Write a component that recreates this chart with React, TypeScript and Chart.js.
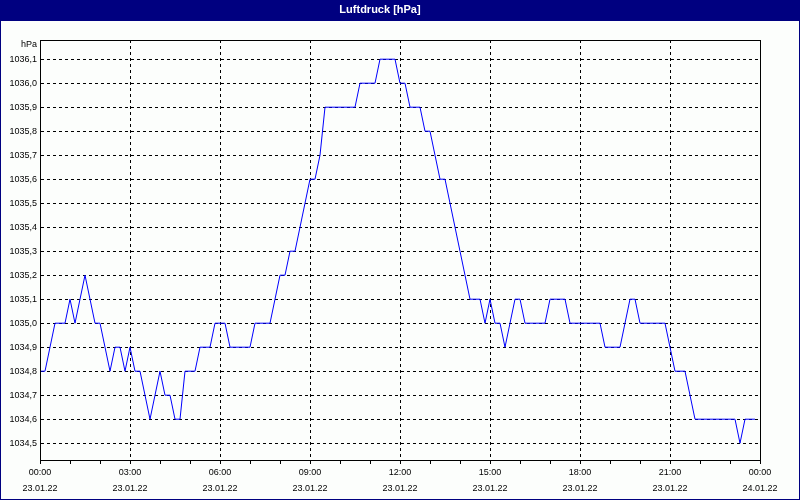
import React, { useEffect, useRef } from 'react';
import { Chart, registerables } from 'chart.js';

Chart.register(...registerables);

const TITLE = 'Luftdruck [hPa]';
const UNIT = 'hPa';
const SAMPLE_MINUTES = 10;

// Air pressure, one value every 10 minutes from 00:00 to 23:50
const PRESSURE = [
  1034.8, 1034.8, 1034.9, 1035.0, 1035.0, 1035.0,
  1035.1, 1035.0, 1035.1, 1035.2, 1035.1, 1035.0,
  1035.0, 1034.9, 1034.8, 1034.9, 1034.9, 1034.8,
  1034.9, 1034.8, 1034.8, 1034.7, 1034.6, 1034.7,
  1034.8, 1034.7, 1034.7, 1034.6, 1034.6, 1034.8,
  1034.8, 1034.8, 1034.9, 1034.9, 1034.9, 1035.0,
  1035.0, 1035.0, 1034.9, 1034.9, 1034.9, 1034.9,
  1034.9, 1035.0, 1035.0, 1035.0, 1035.0, 1035.1,
  1035.2, 1035.2, 1035.3, 1035.3, 1035.4, 1035.5,
  1035.6, 1035.6, 1035.7, 1035.9, 1035.9, 1035.9,
  1035.9, 1035.9, 1035.9, 1035.9, 1036.0, 1036.0,
  1036.0, 1036.0, 1036.1, 1036.1, 1036.1, 1036.1,
  1036.0, 1036.0, 1035.9, 1035.9, 1035.9, 1035.8,
  1035.8, 1035.7, 1035.6, 1035.6, 1035.5, 1035.4,
  1035.3, 1035.2, 1035.1, 1035.1, 1035.1, 1035.0,
  1035.1, 1035.0, 1035.0, 1034.9, 1035.0, 1035.1,
  1035.1, 1035.0, 1035.0, 1035.0, 1035.0, 1035.0,
  1035.1, 1035.1, 1035.1, 1035.1, 1035.0, 1035.0,
  1035.0, 1035.0, 1035.0, 1035.0, 1035.0, 1034.9,
  1034.9, 1034.9, 1034.9, 1035.0, 1035.1, 1035.1,
  1035.0, 1035.0, 1035.0, 1035.0, 1035.0, 1035.0,
  1034.9, 1034.8, 1034.8, 1034.8, 1034.7, 1034.6,
  1034.6, 1034.6, 1034.6, 1034.6, 1034.6, 1034.6,
  1034.6, 1034.6, 1034.5, 1034.6, 1034.6, 1034.6,
];

const Y_MIN = 1034.43;
const Y_MAX = 1036.18;
const Y_TICKS = [
  1034.5, 1034.6, 1034.7, 1034.8, 1034.9, 1035.0, 1035.1, 1035.2, 1035.3,
  1035.4, 1035.5, 1035.6, 1035.7, 1035.8, 1035.9, 1036.0, 1036.1,
];

const X_TICK_HOURS = [
  0, 1, 2, 3, 4, 5, 6, 7, 8, 9, 10, 11, 12, 13, 14, 15, 16, 17, 18, 19, 20, 21, 22, 23, 24,
];
const X_MAJOR_EVERY = 3;
const X_TIME_LABELS = ['00:00', '03:00', '06:00', '09:00', '12:00', '15:00', '18:00', '21:00', '00:00'];
const X_DATE_LABELS = ['23.01.22', '23.01.22', '23.01.22', '23.01.22', '23.01.22', '23.01.22', '23.01.22', '23.01.22', '24.01.22'];

const FONT = '"Liberation Sans", Arial, sans-serif';

export default function App() {
  const ref = useRef<HTMLCanvasElement>(null);

  useEffect(() => {
    document.body.style.margin = '0';
    const canvas = ref.current;
    if (!canvas) return;

    const framePlugin = {
      id: 'frame',
      beforeDraw(chart: any) {
        const { ctx, width, height } = chart;
        ctx.save();
        ctx.fillStyle = '#000080';
        ctx.fillRect(0, 0, width, height);
        ctx.fillStyle = '#fcfefc';
        ctx.fillRect(1, 21, width - 2, height - 22);
        ctx.restore();
      },
      afterDraw(chart: any) {
        const { ctx, chartArea } = chart;
        ctx.save();
        ctx.strokeStyle = '#000';
        ctx.lineWidth = 1;
        ctx.setLineDash([]);
        const l = Math.round(chartArea.left);
        const t = Math.round(chartArea.top);
        const r = Math.round(chartArea.right);
        const b = Math.round(chartArea.bottom);
        ctx.strokeRect(l + 0.5, t + 0.5, r - l, b - t);
        ctx.fillStyle = '#000';
        ctx.font = '9px ' + FONT;
        ctx.textAlign = 'right';
        ctx.textBaseline = 'middle';
        ctx.fillText(UNIT, l - 3, t + 5);
        ctx.restore();
      },
    };

    const points = PRESSURE.map((v, i) => ({ x: (i * SAMPLE_MINUTES) / 60, y: v }));

    const chart = new Chart(canvas, {
      type: 'line',
      data: {
        datasets: [
          {
            data: points,
            borderColor: '#0000ff',
            borderWidth: 1,
            pointRadius: 0,
            tension: 0,
            fill: false,
          },
        ],
      },
      options: {
        responsive: false,
        animation: false,
        devicePixelRatio: 1,
        layout: { padding: { left: 0, right: 40, top: 0, bottom: 0 } },
        plugins: {
          legend: { display: false },
          tooltip: { enabled: false },
          title: {
            display: true,
            text: TITLE,
            color: '#ffffff',
            font: { family: FONT, size: 11, weight: 'bold' },
            padding: { top: 3, bottom: 23.8 },
          },
        },
        scales: {
          x: {
            type: 'linear',
            min: 0,
            max: 24,
            afterBuildTicks: (scale: any) => {
              scale.ticks = X_TICK_HOURS.map((v) => ({ value: v }));
            },
            afterFit: (scale: any) => {
              scale.height = 40;
            },
            border: { display: true, color: '#000', width: 1, dash: [3, 3] },
            grid: {
              color: (ctx: any) =>
                ctx.tick && ctx.tick.value % X_MAJOR_EVERY === 0 ? '#000' : 'rgba(0,0,0,0)',
              tickColor: '#000',
              tickLength: 4,
              drawTicks: true,
            },
            ticks: {
              autoSkip: false,
              maxRotation: 0,
              minRotation: 0,
              padding: 1,
              color: '#000',
              font: { family: FONT, size: 9, lineHeight: 16 / 9 },
              callback: (value: any) => {
                const v = Number(value);
                if (v % X_MAJOR_EVERY !== 0) return '';
                const idx = v / X_MAJOR_EVERY;
                return [X_TIME_LABELS[idx], X_DATE_LABELS[idx]];
              },
            },
          },
          y: {
            type: 'linear',
            min: Y_MIN,
            max: Y_MAX,
            afterBuildTicks: (scale: any) => {
              scale.ticks = Y_TICKS.map((v) => ({ value: v }));
            },
            afterFit: (scale: any) => {
              scale.width = 40;
            },
            border: { display: true, color: '#000', width: 1, dash: [3, 3] },
            grid: {
              color: '#000',
              drawTicks: false,
            },
            ticks: {
              padding: 3,
              color: '#000',
              font: { family: FONT, size: 9 },
              callback: (value: any) => Number(value).toFixed(1).replace('.', ','),
            },
          },
        },
      },
      plugins: [framePlugin],
    } as any);

    return () => {
      chart.destroy();
    };
  }, []);

  return <canvas ref={ref} width={800} height={500} style={{ display: 'block' }} />;
}
